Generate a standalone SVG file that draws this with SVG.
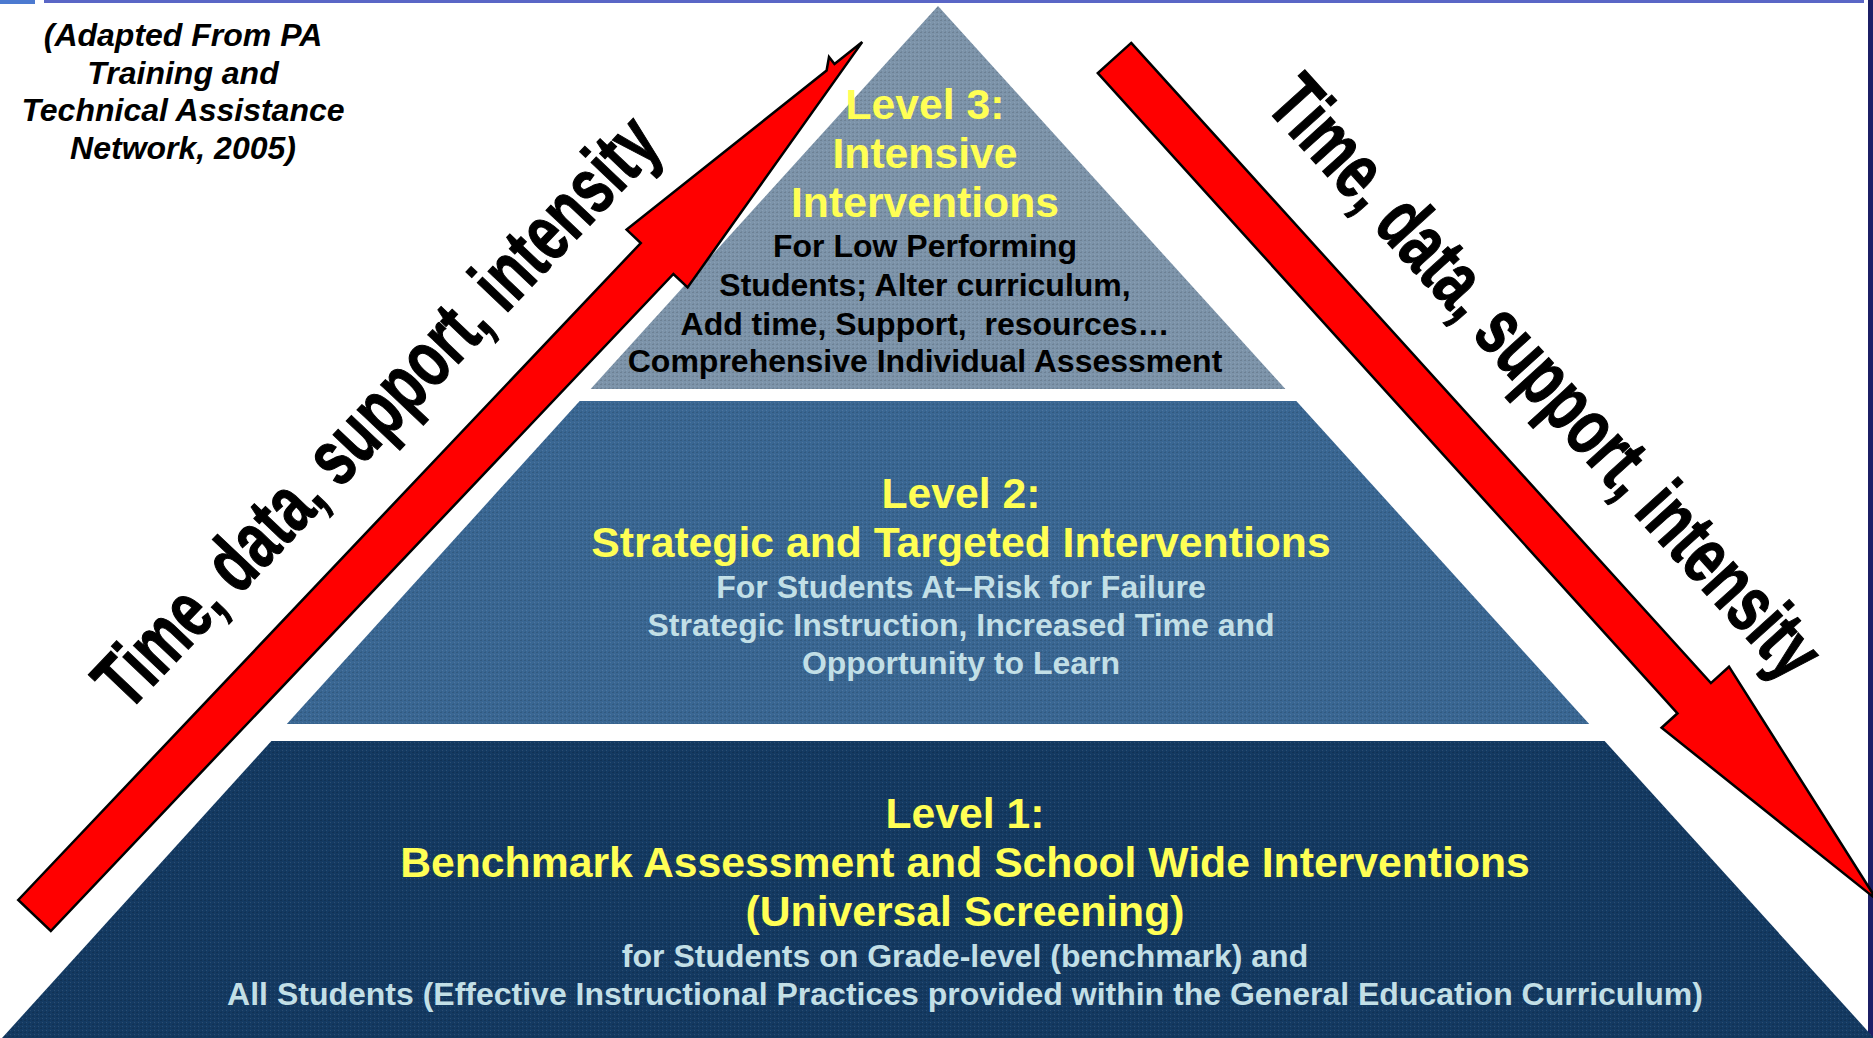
<svg xmlns="http://www.w3.org/2000/svg" width="1873" height="1038" viewBox="0 0 1873 1038">
  <defs>
    <style>
      .title { font-family: "Liberation Sans", Arial, sans-serif; font-weight: bold; font-size: 42.7px; fill: #ffff55; text-anchor: middle; }
      .desc { font-family: "Liberation Sans", Arial, sans-serif; font-weight: bold; font-size: 32px; text-anchor: middle; }
      .dark { fill: #000000; }
      .light { fill: #c2dfe6; }
      .cite { font-family: "Liberation Sans", Arial, sans-serif; font-weight: bold; font-style: italic; font-size: 32px; fill: #000000; text-anchor: middle; }
      .arrow { fill: #ff0000; stroke: #000000; stroke-width: 2.5; stroke-linejoin: miter; }
      .arrow-label { font-family: "Liberation Sans", Arial, sans-serif; font-weight: bold; font-size: 80px; fill: #000000; stroke: #000000; stroke-width: 1.2; text-anchor: middle; }
      .weave { fill: url(#weave); }
    </style>
    <!-- fine woven dot texture laid over the pyramid bands -->
    <pattern id="weave" width="4" height="4" patternUnits="userSpaceOnUse">
      <rect x="0" y="0" width="2" height="1" fill="#000000" opacity="0.13"/>
      <rect x="2" y="2" width="1" height="1" fill="#ffffff" opacity="0.10"/>
      <rect x="1" y="3" width="1" height="1" fill="#000000" opacity="0.08"/>
    </pattern>
  </defs>

  <!-- page background and frame lines -->
  <rect x="0" y="0" width="1873" height="1038" fill="#ffffff"/>
  <rect x="0" y="0" width="35" height="4" fill="#4c7ad0"/>
  <rect x="44" y="0" width="1820" height="3" fill="#5a66c6"/>
  <rect x="1868" y="0" width="5" height="1038" fill="#1c1f66"/>

  <!-- source note -->
  <g id="citation">
    <text class="cite" x="183" y="46">(Adapted From PA</text>
    <text class="cite" x="183" y="84">Training and</text>
    <text class="cite" x="183" y="121">Technical Assistance</text>
    <text class="cite" x="183" y="159">Network, 2005)</text>
  </g>

  <!-- Level 1: base band -->
  <g id="level1">
    <polygon points="271.4,741 1604.6,741 1874,1038 2,1038" fill="#143a62"/>
    <polygon class="weave" points="271.4,741 1604.6,741 1874,1038 2,1038"/>
    <text class="title" x="965" y="828">Level 1:</text>
    <text class="title" x="965" y="877">Benchmark Assessment and School Wide Interventions</text>
    <text class="title" x="965" y="926">(Universal Screening)</text>
    <text class="desc light" x="965" y="967">for Students on Grade-level (benchmark) and</text>
    <text class="desc light" x="965" y="1005">All Students (Effective Instructional Practices provided within the General Education Curriculum)</text>
  </g>

  <!-- Level 2: middle band -->
  <g id="level2">
    <polygon points="579.7,401 1296.3,401 1589.2,724 286.8,724" fill="#3a6793"/>
    <polygon class="weave" points="579.7,401 1296.3,401 1589.2,724 286.8,724"/>
    <text class="title" x="961" y="508">Level 2:</text>
    <text class="title" x="961" y="557">Strategic and Targeted Interventions</text>
    <text class="desc light" x="961" y="598">For Students At–Risk for Failure</text>
    <text class="desc light" x="961" y="636">Strategic Instruction, Increased Time and</text>
    <text class="desc light" x="961" y="674">Opportunity to Learn</text>
  </g>

  <!-- Level 3: top triangle -->
  <g id="level3">
    <polygon points="938,6 1285.4,389 590.6,389" fill="#7d94aa"/>
    <polygon class="weave" points="938,6 1285.4,389 590.6,389"/>
    <text class="title" x="925" y="119">Level 3:</text>
    <text class="title" x="925" y="168">Intensive</text>
    <text class="title" x="925" y="217">Interventions</text>
    <text class="desc dark" x="925" y="257">For Low Performing</text>
    <text class="desc dark" x="925" y="296">Students; Alter curriculum,</text>
    <text class="desc dark" x="925" y="335" xml:space="preserve">Add time, Support,  resources…</text>
    <text class="desc dark" x="925" y="372">Comprehensive Individual Assessment</text>
  </g>

  <!-- rising and falling arrows with their labels -->
  <g id="connectors">
    <polygon class="arrow" points="18.2,900 640.8,243 626.6,229.6 826.6,70.5 829,57 834.5,64.1 862.2,42.1 687.6,287.4 673.4,274 50.8,931"/>
    <text class="arrow-label" transform="translate(396,430) rotate(-46.55)" textLength="780" lengthAdjust="spacingAndGlyphs">Time, data, support, intensity</text>

    <polygon class="arrow" points="1131.2,42.9 1710.9,683.1 1729,666.7 1876.8,899.8 1661.6,727.7 1677.5,713.3 1097.8,73.1"/>
    <text class="arrow-label" transform="translate(1525.5,395.2) rotate(47.8)" textLength="780" lengthAdjust="spacingAndGlyphs">Time, data, support, intensity</text>
  </g>
</svg>
